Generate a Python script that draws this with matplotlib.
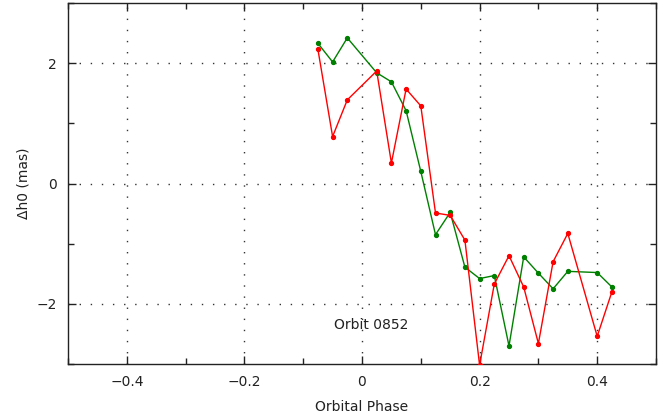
import matplotlib
matplotlib.use("Agg")
import matplotlib.pyplot as plt
from matplotlib.ticker import MultipleLocator

phase = [-0.075, -0.05, -0.025, 0.025, 0.05, 0.075, 0.1, 0.125, 0.15, 0.175,
         0.2, 0.225, 0.25, 0.275, 0.3, 0.325, 0.35, 0.4, 0.425]
green_dh0 = [2.33, 2.02, 2.42, 1.84, 1.69, 1.21, 0.20, -0.85, -0.48, -1.39,
             -1.58, -1.53, -2.70, -1.22, -1.49, -1.75, -1.46, -1.48, -1.72]
red_dh0 = [2.23, 0.78, 1.39, 1.87, 0.34, 1.57, 1.29, -0.49, -0.53, -0.94,
           -3.02, -1.67, -1.20, -1.72, -2.66, -1.30, -0.83, -2.54, -1.80]
xticks = [-0.4, -0.2, 0, 0.2, 0.4]
xticklabels = ["\u22120.4", "\u22120.2", "0", "0.2", "0.4"]
yticks = [-2, 0, 2]
yticklabels = ["\u22122", "0", "2"]
label_text = "Orbit 0852"

fig = plt.figure(figsize=(6.61, 4.18), dpi=100)
ax = fig.add_axes([68/661, 54/418, 588/661, 361/418])

ax.plot(phase, green_dh0, color="#008000", lw=1.0, marker="o", ms=2.8, zorder=3)
ax.plot(phase, red_dh0, color="#ff0000", lw=1.0, marker="o", ms=2.8, zorder=3)

ax.set_xlim(-0.5, 0.5)
ax.set_ylim(-3.0, 3.0)
ax.set_xticks(xticks)
ax.set_xticklabels(xticklabels)
ax.set_yticks(yticks)
ax.set_yticklabels(yticklabels)
ax.xaxis.set_minor_locator(MultipleLocator(0.1))
ax.yaxis.set_minor_locator(MultipleLocator(1))
ax.tick_params(which="both", direction="in", top=True, right=True,
               labelsize=10, colors="#222222")
ax.tick_params(which="major", length=6, width=1)
ax.tick_params(which="minor", length=4, width=1)
ax.tick_params(axis="x", pad=8)
ax.tick_params(axis="y", pad=8)
ax.grid(True, which="major", color="#333333", linestyle=(0, (1, 7)), linewidth=1.0)
for s in ax.spines.values():
    s.set_linewidth(1.0)
    s.set_color("#222222")

ax.set_xlabel("Orbital Phase", fontsize=10, labelpad=8, color="#222222")
ax.set_ylabel("\u0394h0 (mas)", fontsize=10, labelpad=4, color="#222222")
ax.text(0.016, -2.35, label_text, ha="center", va="center", fontsize=10,
        color="#222222")

fig.savefig("out.png", dpi=100)
